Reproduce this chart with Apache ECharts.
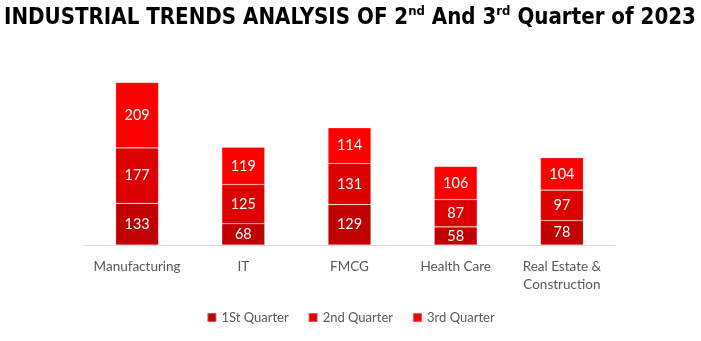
<!DOCTYPE html>
<html><head><meta charset="utf-8">
<script src="https://cdn.jsdelivr.net/npm/echarts@6/dist/echarts.min.js"></script>
<style>html,body{margin:0;padding:0;background:#fff}#c{width:701px;height:341px}</style>
</head><body><div id="c"></div>
<script>
const categories = ['Manufacturing', 'IT', 'FMCG', 'Health Care', 'Real Estate &\nConstruction'];
const seriesNames = ['1St Quarter', '2nd Quarter', '3rd Quarter'];
const q1 = [133, 68, 129, 58, 78];
const q2 = [177, 125, 131, 87, 97];
const q3 = [209, 119, 114, 106, 104];
const colors = ['#C00000', '#DC0000', '#FF0000'];

const TF = '"DejaVu Sans Condensed", "Liberation Sans", sans-serif';
const chart = echarts.init(document.getElementById('c'));
const mk = (name, data, color) => ({
  name, type: 'bar', stack: 'total', data, barWidth: 43,
  itemStyle: { color, borderColor: 'rgba(255,255,255,0.35)', borderWidth: 0.6 },
  label: { show: true, position: 'inside', color: '#fff', fontFamily: 'Lato', fontSize: 14.5 }
});
chart.setOption({
  animation: false,
  title: {
    left: -1, top: 0,
    text: '{a|INDUSTRIAL TRENDS ANALYSIS OF 2}{s|nd}{a| And 3}{s|rd}{a| Quarter of 2023}',
    textStyle: {
      rich: {
        a: { fontFamily: TF, fontWeight: 'bold', fontSize: 22.1, color: '#000', lineHeight: 27 },
        s: { fontFamily: TF, fontWeight: 'bold', fontSize: 13, color: '#000', lineHeight: 27, verticalAlign: 'top', padding: [0, 0, 8, 0] }
      }
    }
  },
  legend: {
    bottom: 12, left: 'center', itemWidth: 9, itemHeight: 9, itemGap: 19, icon: 'rect',
    textStyle: { color: '#595959', fontFamily: 'Lato', fontSize: 13 }
  },
  grid: { left: 84, right: 86, top: 57, bottom: 96 },
  xAxis: {
    type: 'category', data: categories,
    axisLine: { lineStyle: { color: '#D9D9D9', width: 1 } },
    axisTick: { show: false },
    axisLabel: { interval: 0, color: '#595959', fontFamily: 'Lato', fontSize: 13.5, margin: 13, lineHeight: 18 }
  },
  yAxis: { type: 'value', min: 0, max: 600, show: false, splitLine: { show: false } },
  series: [mk(seriesNames[0], q1, colors[0]), mk(seriesNames[1], q2, colors[1]), mk(seriesNames[2], q3, colors[2])]
});
</script></body></html>
